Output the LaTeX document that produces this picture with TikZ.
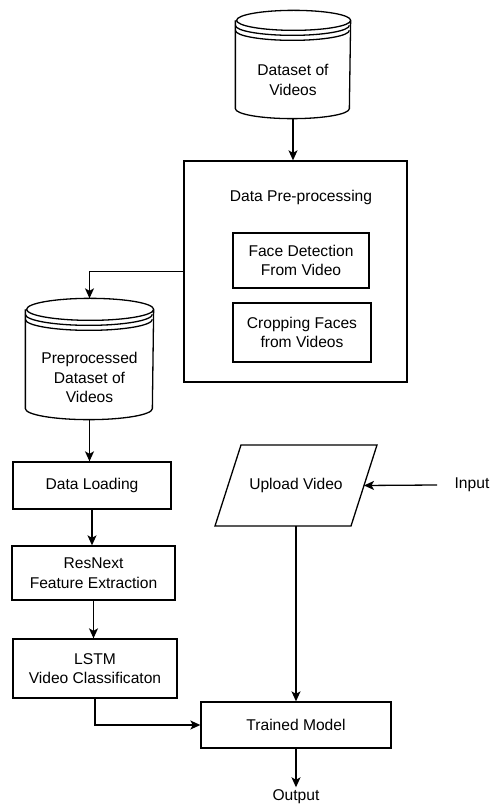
\documentclass[tikz,border=0pt]{standalone}
\usepackage{fontspec}
\setmainfont{Liberation Sans}
\usetikzlibrary{arrows.meta,calc}
\tikzset{
  box/.style={draw, align=center, inner sep=0pt},
  store/.style={inner sep=0pt},
  flow/.style={-{Stealth[length=10pt,width=9pt,inset=2.5pt]}},
}
% cylinder outline round a node: name, x radius, y radius
\newcommand\datastore[3]{%
  \draw ($(#1.north west)+(0,-#3)$) -- ($(#1.south west)+(0,#3)$)
    arc[start angle=180, end angle=360, x radius=#2, y radius=#3]
    -- ($(#1.north east)+(0,-#3)$)
    arc[start angle=0, end angle=180, x radius=#2, y radius=#3]
    arc[start angle=180, end angle=360, x radius=#2, y radius=#3];
  \foreach \dy in {5,10}
    \draw ($(#1.north west)+(0,-#3-\dy)$)
      arc[start angle=180, end angle=360, x radius=#2, y radius=#3];
}
\begin{document}
\begin{tikzpicture}[x=1pt, y=1pt, line width=1.3pt,
  font=\fontsize{15.6}{19.5}\selectfont]
\useasboundingbox (0,0) rectangle (490,807);
% datasets
\node[store, minimum width=114pt, minimum height=107pt,
  label={[align=center, yshift=-15.5pt]center:Dataset of\\Videos}] (raw) at (293,742.5) {};
\datastore{raw}{57}{10}
\node[store, minimum width=127pt, minimum height=120pt,
  label={[align=center, yshift=-18.5pt]center:Preprocessed\\Dataset of\\Videos}] (clean) at (89.5,448) {};
\datastore{clean}{63.5}{11}
% pre-processing block
\node[box, minimum width=223pt, minimum height=221pt] (prep) at (295.5,535.5) {};
\node (preptitle) at (301,610) {Data Pre-processing};
\node[box, minimum width=136pt, minimum height=55pt] (face) at (301,546.5) {Face Detection\\From Video};
\node[box, minimum width=138pt, minimum height=59pt] (crop) at (302,474.5) {Cropping Faces\\from Videos};
% training column
\node[box, minimum width=158pt, minimum height=47pt] (load) at (92,321.5) {Data Loading};
\node[box, minimum width=163pt, minimum height=54pt] (resnext) at (93.5,234) {ResNext\\Feature Extraction};
\node[box, minimum width=164pt, minimum height=59pt] (lstm) at (95,138.5) {LSTM\\Video Classificaton};
\node[box, minimum width=190pt, minimum height=46pt] (model) at (296,82) {Trained Model};
% input side
\node[store, outer sep=0pt, minimum width=136pt, minimum height=81pt] (upload) at (296,321.5) {Upload Video};
\draw ([xshift=-13pt]upload.south west) -- ([xshift=13pt]upload.north west)
  -- ([xshift=13pt]upload.north east) -- ([xshift=-13pt]upload.south east) -- cycle;
\node[inner xsep=17pt] (input) at (472,322) {Input};
\node[inner sep=2pt] (output) at (296,10) {Output};
% connectors
\draw[flow] (raw.south) -- (raw.south |- prep.north);
\draw[flow] (prep.west) -| (clean.north);
\draw[flow] (clean.south) -- (clean.south |- load.north);
\draw[flow] (load.south) -- (load.south |- resnext.north);
\draw[flow] (resnext.south) -- (resnext.south |- lstm.north);
\draw[flow] (lstm.south) |- (model.west);
\draw[flow] (input.west) -- (upload.east);
\draw[flow] (upload.south) -- (model.north);
\draw[flow] (model.south) -- (output.north);
\end{tikzpicture}
\end{document}
